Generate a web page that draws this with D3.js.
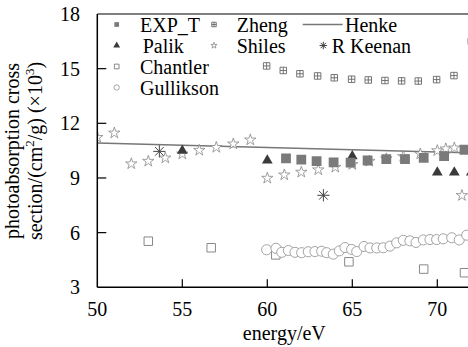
<!DOCTYPE html>
<html>
<head>
<meta charset="utf-8">
<script src="https://cdn.jsdelivr.net/npm/d3@7"></script>
<style>
  body { margin: 0; background: #fff; }
</style>
</head>
<body>
<div id="chart"></div>
<script>
const width = 468;
const height = 347;
const serif = "'Liberation Serif', 'Times New Roman', Times, 'DejaVu Serif', serif";

// series (energy in eV, cross section x10^3 cm^2/g)
const expX = [61.1, 62.0, 62.9, 63.9, 64.9, 65.9, 67.0, 68.1, 69.2, 70.4, 71.6];
const expY = [10.08, 10.01, 9.92, 9.86, 9.84, 9.96, 10.03, 10.03, 10.1, 10.2, 10.55];

const zhengX = [59.96, 60.94, 61.92, 62.96, 63.94, 64.96, 65.94, 66.92, 67.9, 68.88, 69.96, 70.98, 72.0];
const zhengY = [15.15, 14.9, 14.72, 14.6, 14.5, 14.42, 14.38, 14.35, 14.33, 14.32, 14.4, 14.62, 16.5];

const henkeX = [50, 55, 60, 65, 70, 72];
const henkeY = [10.92, 10.8, 10.67, 10.55, 10.43, 10.38];

const palikX = [55.0, 60.0, 65.0, 70.0, 71.0, 72.0];
const palikY = [10.5, 9.96, 10.2, 9.3, 9.3, 9.3];

const shilesX = [50.0, 51.0, 52.0, 53.0, 54.0, 55.0, 56.0, 57.0, 58.0, 59.0,
  60.0, 61.0, 62.0, 63.0, 64.0, 65.0, 66.0, 67.0, 68.0, 69.0, 70.0, 70.5, 71.0, 71.45];
const shilesY = [11.23, 11.47, 9.78, 9.92, 10.1, 10.32, 10.52, 10.68, 10.87, 11.09,
  8.99, 9.17, 9.32, 9.45, 9.59, 9.74, 9.92, 10.05, 10.18, 10.32, 10.5, 10.6, 10.65, 8.04];

const keenanX = [53.65, 63.3];
const keenanY = [10.46, 8.05];

const chantlerX = [53.0, 56.7, 60.5, 64.8, 69.2, 71.6];
const chantlerY = [5.53, 5.17, 4.78, 4.4, 4.0, 3.8];

const gullX = [59.96, 60.51, 60.85, 61.24, 61.63, 62.02, 62.41, 62.8, 63.2, 63.49,
  63.88, 64.24, 64.57, 64.96, 65.26, 65.69, 66.04, 66.44, 66.82, 67.22,
  67.61, 68.0, 68.39, 68.75, 69.18, 69.57, 69.96, 70.35, 70.85, 71.29, 71.73];
const gullY = [5.06, 5.14, 4.92, 5.02, 4.92, 4.9, 4.95, 4.96, 4.98, 4.9,
  4.82, 5.0, 5.18, 5.08, 4.96, 5.24, 5.16, 5.16, 5.17, 5.26,
  5.44, 5.58, 5.55, 5.46, 5.6, 5.62, 5.62, 5.66, 5.72, 5.6, 5.86];

const xTicks = [50, 55, 60, 65, 70];
const yTicks = [3, 6, 9, 12, 15, 18];

const margin = {left: 97.3, top: 14, bottom: 287.3};
const x = d3.scaleLinear().domain([50, 72]).range([margin.left, margin.left + 22 * 17]);
const y = d3.scaleLinear().domain([3, 18]).range([margin.bottom, margin.top]);

const zip = (xs, ys) => xs.map((v, i) => [v, ys[i]]);

// custom marker shapes
const symZheng = {
  draw(ctx, size) {
    const r = Math.sqrt(size) / 2;
    ctx.moveTo(-r, -r); ctx.lineTo(r, -r); ctx.lineTo(r, r); ctx.lineTo(-r, r); ctx.closePath();
    ctx.moveTo(0, -r); ctx.lineTo(0, r);
    ctx.moveTo(-r, 0); ctx.lineTo(r, 0);
  }
};
const symAst = {
  draw(ctx, size) {
    const r = Math.sqrt(size) / 2, d = r * 0.707;
    ctx.moveTo(-r, 0); ctx.lineTo(r, 0);
    ctx.moveTo(0, -r); ctx.lineTo(0, r);
    ctx.moveTo(-d, -d); ctx.lineTo(d, d);
    ctx.moveTo(-d, d); ctx.lineTo(d, -d);
  }
};

const styles = {
  exp:      {type: d3.symbolSquare,   size: 96, legendSize: 22, fill: "#7a7a7a", stroke: "none", sw: 0},
  zheng:    {type: symZheng,          size: 42, legendSize: 20, fill: "#fff", stroke: "#666", sw: 0.9},
  palik:    {type: d3.symbolTriangle, size: 50, legendSize: 20, fill: "#3a3a3a", stroke: "none", sw: 0},
  shiles:   {type: d3.symbolStar,     size: 40, legendSize: 12, fill: "#fff", stroke: "#888", sw: 0.8},
  keenan:   {type: symAst,            size: 150, legendSize: 56, fill: "none", stroke: "#444", sw: 1},
  chantler: {type: d3.symbolSquare,   size: 72, legendSize: 22, fill: "#fff", stroke: "#888", sw: 1},
  gull:     {type: d3.symbolCircle,   size: 80, legendSize: 22, fill: "#fff", stroke: "#999", sw: 0.9}
};

const svg = d3.select("#chart").append("svg")
    .attr("width", width)
    .attr("height", height)
    .style("display", "block")
    .style("font-family", serif);

svg.append("defs").append("clipPath").attr("id", "plot")
  .append("rect")
    .attr("x", margin.left).attr("y", margin.top)
    .attr("width", x(72) - margin.left).attr("height", margin.bottom - margin.top);

const plot = svg.append("g").attr("clip-path", "url(#plot)");

// Henke curve
plot.append("path")
    .datum(zip(henkeX, henkeY))
    .attr("fill", "none")
    .attr("stroke", "#777")
    .attr("stroke-width", 1.5)
    .attr("d", d3.line().x(d => x(d[0])).y(d => y(d[1])));

function drawSeries(xs, ys, st) {
  plot.append("g")
    .selectAll("path")
    .data(zip(xs, ys))
    .join("path")
      .attr("transform", d => `translate(${x(d[0])},${y(d[1])})`)
      .attr("d", d3.symbol(st.type, st.size))
      .attr("fill", st.fill)
      .attr("stroke", st.stroke)
      .attr("stroke-width", st.sw);
}

drawSeries(chantlerX, chantlerY, styles.chantler);
drawSeries(gullX, gullY, styles.gull);
drawSeries(zhengX, zhengY, styles.zheng);
drawSeries(shilesX, shilesY, styles.shiles);
drawSeries(palikX, palikY, styles.palik);
drawSeries(expX, expY, styles.exp);
drawSeries(keenanX, keenanY, styles.keenan);

// axes frame
svg.append("line")
    .attr("x1", margin.left).attr("x2", margin.left)
    .attr("y1", margin.top).attr("y2", margin.bottom)
    .attr("stroke", "#000").attr("stroke-width", 1.5);
svg.append("line")
    .attr("x1", margin.left).attr("x2", width)
    .attr("y1", margin.bottom).attr("y2", margin.bottom)
    .attr("stroke", "#000").attr("stroke-width", 1.5);
svg.append("line")
    .attr("x1", margin.left).attr("x2", width)
    .attr("y1", margin.top).attr("y2", margin.top)
    .attr("stroke", "#000").attr("stroke-width", 1);

// y ticks (inward)
const yAxis = svg.append("g").attr("font-size", 20);
yAxis.selectAll("line")
  .data(yTicks.filter(t => t > 3 && t < 18))
  .join("line")
    .attr("x1", margin.left).attr("x2", margin.left + 9)
    .attr("y1", d => y(d)).attr("y2", d => y(d))
    .attr("stroke", "#000").attr("stroke-width", 1.2);
yAxis.selectAll("text")
  .data(yTicks)
  .join("text")
    .attr("x", 80)
    .attr("y", d => y(d))
    .attr("dy", "0.35em")
    .attr("text-anchor", "end")
    .text(d => d);

// x ticks (inward)
const xAxis = svg.append("g").attr("font-size", 20);
xAxis.selectAll("line")
  .data(xTicks.filter(t => t > 50))
  .join("line")
    .attr("x1", d => x(d)).attr("x2", d => x(d))
    .attr("y1", margin.bottom).attr("y2", margin.bottom - 8)
    .attr("stroke", "#000").attr("stroke-width", 1.2);
xAxis.selectAll("text")
  .data(xTicks)
  .join("text")
    .attr("x", d => x(d))
    .attr("y", 316)
    .attr("text-anchor", "middle")
    .text(d => d);

// axis titles
svg.append("text")
    .attr("x", (margin.left + x(72)) / 2)
    .attr("y", 340)
    .attr("text-anchor", "middle")
    .attr("font-size", 20)
    .text("energy/eV");

const yTitle = svg.append("g")
    .attr("transform", "translate(0,151) rotate(-90)")
    .attr("font-size", 20)
    .attr("text-anchor", "middle");
yTitle.append("text")
    .attr("x", 0).attr("y", 19)
    .text("photoabsorption cross");
const t2 = yTitle.append("text").attr("x", 0).attr("y", 42);
t2.append("tspan").text("section/(cm");
t2.append("tspan").attr("font-size", 13).attr("dy", -8).text("2");
t2.append("tspan").attr("dy", 8).text("/g) (\u00d710");
t2.append("tspan").attr("font-size", 13).attr("dy", -8).text("3");
t2.append("tspan").attr("dy", 8).text(")");

// legend
const legendItems = [
  {name: "EXP_T",     st: styles.exp,      mx: 116.7, tx: 140,   row: 0},
  {name: "Zheng",     st: styles.zheng,    mx: 214,   tx: 236.7, row: 0},
  {name: "Henke",     st: null,            mx: 322.7, tx: 345,   row: 0},
  {name: "Palik",     st: styles.palik,    mx: 116.7, tx: 142.7, row: 1},
  {name: "Shiles",    st: styles.shiles,   mx: 214,   tx: 236.7, row: 1},
  {name: "R Keenan",  st: styles.keenan,   mx: 323.3, tx: 331.7, row: 1},
  {name: "Chantler",  st: styles.chantler, mx: 116.7, tx: 140,   row: 2},
  {name: "Gullikson", st: styles.gull,     mx: 116.7, tx: 140,   row: 3}
];
const rowBase = [31.5, 52.5, 73.5, 94.5];

const legend = svg.append("g").attr("font-size", 20);
legendItems.forEach(it => {
  const by = rowBase[it.row];
  if (it.st) {
    legend.append("path")
        .attr("transform", `translate(${it.mx},${by - 7})`)
        .attr("d", d3.symbol(it.st.type, it.st.legendSize))
        .attr("fill", it.st.fill)
        .attr("stroke", it.st.stroke)
        .attr("stroke-width", it.st.sw);
  } else {
    legend.append("line")
        .attr("x1", 302.7).attr("x2", 342.7)
        .attr("y1", by - 7).attr("y2", by - 7)
        .attr("stroke", "#777").attr("stroke-width", 1.5);
  }
  legend.append("text")
      .attr("x", it.tx).attr("y", by)
      .text(it.name);
});
</script>
</body>
</html>
